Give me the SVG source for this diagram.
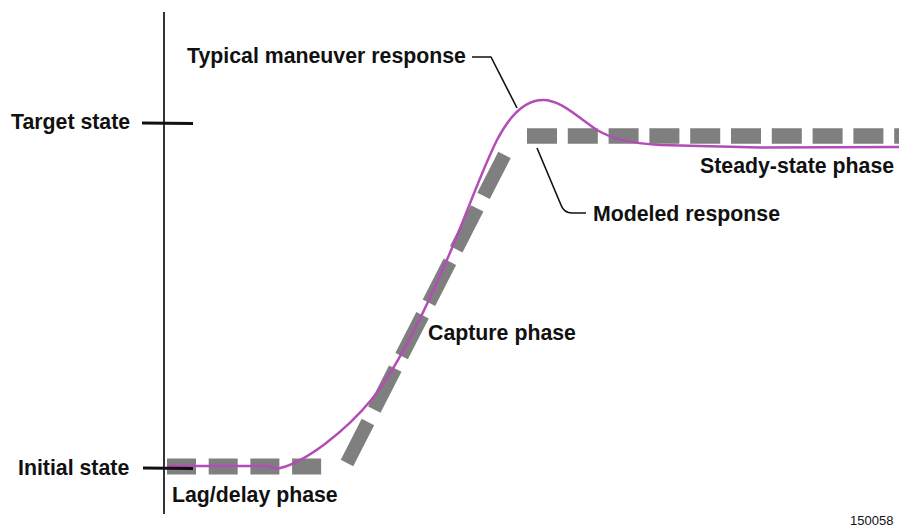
<svg xmlns="http://www.w3.org/2000/svg" width="899" height="529" viewBox="0 0 899 529">
  <style>
    .lbl { font-family: "Liberation Sans", Arial, sans-serif; font-weight: bold; font-size: 21.3px; fill: #111; }
    .code { font-family: "Liberation Sans", Arial, sans-serif; font-size: 13px; fill: #111; }
    .axis { stroke: #333; stroke-width: 2; fill: none; }
    .tick { stroke: #111; stroke-width: 3; fill: none; }
    .model { stroke: #7f7f7f; fill: none; stroke-linecap: butt; }
    .resp { stroke: #b24db5; stroke-width: 2.5; fill: none; stroke-linejoin: round; }
    .leader { stroke: #111; stroke-width: 1.6; fill: none; stroke-linejoin: round; }
  </style>
  <rect width="899" height="529" fill="#fff"/>

  <!-- state axis -->
  <g id="axis">
    <line class="axis" x1="164" y1="12" x2="164" y2="514"/>
  </g>

  <!-- modeled response (dashed, three phases) -->
  <g id="modeled-response">
    <line class="model" x1="167" y1="466.5" x2="323" y2="466.5" stroke-width="16" stroke-dasharray="29 12.7"/>
    <line class="model" x1="347" y1="463" x2="506" y2="152" stroke-width="14" stroke-dasharray="46 14"/>
    <line class="model" x1="527" y1="136" x2="899" y2="136" stroke-width="15.5" stroke-dasharray="30 10.8"/>
  </g>

  <!-- typical maneuver response -->
  <g id="typical-response">
    <path class="resp" d="M167,466 L268,466 Q274,469 280,468 C305,462 345,432 372,399 C400,364 430,300 452,248 C468,210 482,170 497,140 C510,115 525,100 543,100 C560,100 575,115 597,130 C612,139 630,143 660,145 L760,147.5 L899,147"/>
  </g>

  <!-- axis ticks and state labels -->
  <g id="target-state">
    <line class="tick" x1="142" y1="123" x2="193" y2="123.5"/>
    <text class="lbl" x="11" y="128.5">Target state</text>
  </g>
  <g id="initial-state">
    <line class="tick" x1="143" y1="468" x2="193" y2="468.5"/>
    <text class="lbl" x="18" y="475">Initial state</text>
  </g>

  <!-- leader lines -->
  <g id="connectors">
    <path class="leader" d="M472,57 L491,57 L517,108"/>
    <path class="leader" d="M537,148 L561,205 Q564,213 572,213 L586,213"/>
  </g>

  <!-- callouts and phase labels -->
  <g id="label-typical">
    <text class="lbl" x="187" y="63">Typical maneuver response</text>
  </g>
  <g id="label-modeled">
    <text class="lbl" x="593" y="221">Modeled response</text>
  </g>
  <g id="label-steady">
    <text class="lbl" x="700" y="173">Steady-state phase</text>
  </g>
  <g id="label-capture">
    <text class="lbl" x="428" y="340">Capture phase</text>
  </g>
  <g id="label-lag">
    <text class="lbl" x="172" y="502">Lag/delay phase</text>
  </g>
  <g id="figure-number">
    <text class="code" x="850" y="525">150058</text>
  </g>
</svg>
